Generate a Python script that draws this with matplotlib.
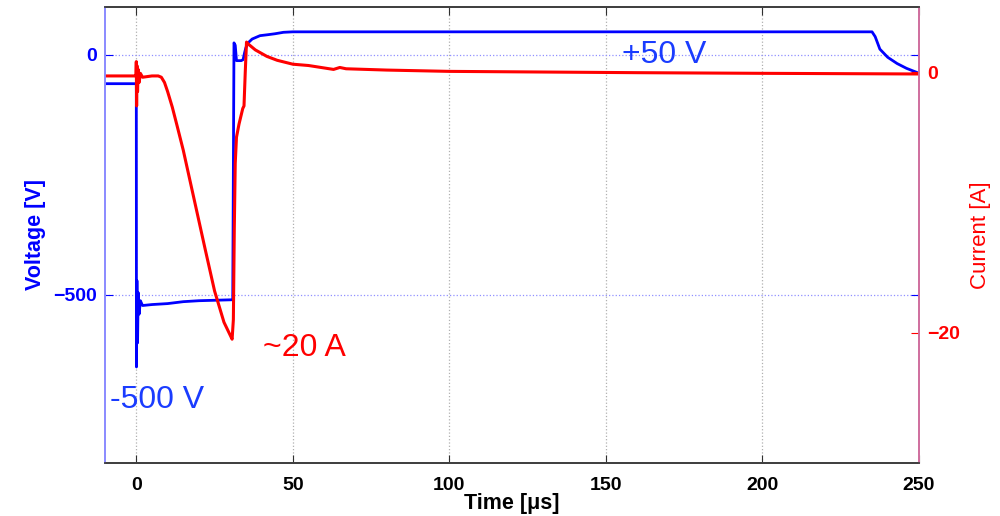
import numpy as np
import matplotlib.pyplot as plt

plt.rcParams['font.family'] = ['Liberation Sans', 'DejaVu Sans']

# voltage trace (blue), time in us, voltage in V
t_v = [-10, -0.3, 0.0, 0.05, 0.2, 0.4, 0.6, 0.9, 1.3, 2, 5, 10, 15, 20, 30.8,
       31.2, 31.6, 32.0, 33.5, 34.1, 34.6, 35.0, 35.7, 37, 39.5, 42, 44.3, 47,
       50, 100, 150, 200, 235, 236, 237.5, 240, 243, 246, 249.5]
volt = [-60, -60, -60, -650, -470, -600, -495, -540, -512, -522, -520, -518,
        -514, -512, -510, 25, 20, -12, -12, -10, 5, 15, 25, 33, 40, 42, 44, 47,
        48, 48, 48, 48, 48, 38, 12, -5, -18, -28, -37]

# current trace (red), current in A
t_i = [-10, -0.5, -0.1, 0.0, 0.1, 0.2, 0.4, 0.6, 0.9, 1.3, 2, 5, 7, 8, 9, 10,
       11.5, 13, 15, 18.5, 22, 25, 28, 30.2, 30.6, 31.0, 31.3, 31.6, 32.0, 32.8,
       33.5, 34.0, 34.4, 34.8, 35.2, 36, 38, 41.7, 45, 50, 55, 63, 65, 67, 80,
       100, 130, 160, 200, 250]
curr = [-0.3, -0.3, -0.2, 0.8, -2.6, 0.5, -1.5, 0.2, -0.8, -0.1, -0.4, -0.3,
        -0.3, -0.4, -0.8, -1.5, -2.7, -4.1, -6.0, -9.8, -13.6, -16.8, -19.2,
        -20.3, -20.5, -19.0, -12.0, -7.0, -5.0, -4.0, -3.3, -2.8, -2.6, 0.0,
        2.3, 2.1, 1.7, 1.2, 0.9, 0.6, 0.5, 0.2, 0.35, 0.25, 0.15, 0.05, 0.0,
        -0.05, -0.1, -0.15]

x_ticks = [0, 50, 100, 150, 200, 250]
v_ticks = [-500, 0]
i_ticks = [-20, 0]

fig = plt.figure(figsize=(10, 5.16), dpi=100)
ax = fig.add_axes([0.105, 0.1027, 0.814, 0.884])
ax2 = ax.twinx()

ax.plot(t_v, volt, color='#0000ff', linewidth=2)
ax2.plot(t_i, curr, color='#ff0000', linewidth=2.2)

ax.set_xlim(-10, 250)
ax.set_ylim(-850, 100)
ax2.set_ylim(-30, 5)

ax.set_xticks(x_ticks)
ax.set_yticks(v_ticks)
ax2.set_yticks(i_ticks)
ax.set_yticklabels(['\u2212500', '0'])
ax2.set_yticklabels(['\u221220', '0'])

# grid: vertical dotted gray, horizontal dotted blue
for x in x_ticks:
    ax.axvline(x, color='#b0b0b0', linestyle=':', linewidth=0.9, zorder=0)
for v in v_ticks:
    ax.axhline(v, color='#9090ff', linestyle=':', linewidth=0.9, zorder=0)

ax.tick_params(axis='x', direction='in', top=True, length=6, colors='#303030',
               labelsize=14, pad=10)
ax.tick_params(axis='y', direction='in', right=True, length=6, colors='#0000ff',
               labelsize=14, pad=6)
ax2.tick_params(axis='y', direction='in', length=6, colors='#ff0000',
                labelsize=14, pad=6)
for lab in ax.get_xticklabels() + ax.get_yticklabels() + ax2.get_yticklabels():
    lab.set_fontweight('bold')
for lab in ax.get_xticklabels():
    lab.set_color('black')

for a in (ax, ax2):
    a.spines['left'].set_color('#8c8cff')
    a.spines['right'].set_color('#d070a0')
    a.spines['top'].set_color('#404040')
    a.spines['bottom'].set_color('#404040')
    for s in a.spines.values():
        s.set_linewidth(1.3)

ax.set_xlabel('Time [\u03bcs]', fontsize=15.5, fontweight='bold', labelpad=-1)
ax.set_ylabel('Voltage [V]', fontsize=15.5, fontweight='bold', color='#0000ff',
              labelpad=5)
ax2.set_ylabel('Current [A]', fontsize=16, color='#ff0000', labelpad=7)

ax.text(155, 0, '+50 V', fontsize=23, color='#1a3cff', va='center', ha='left')
ax.text(-8.5, -719, '-500 V', fontsize=23, color='#1a3cff', va='center',
        ha='left')
ax2.text(40.5, -21.2, '~20 A', fontsize=23, color='#ff0000', va='center',
         ha='left')

fig.savefig('out.png', dpi=100)
